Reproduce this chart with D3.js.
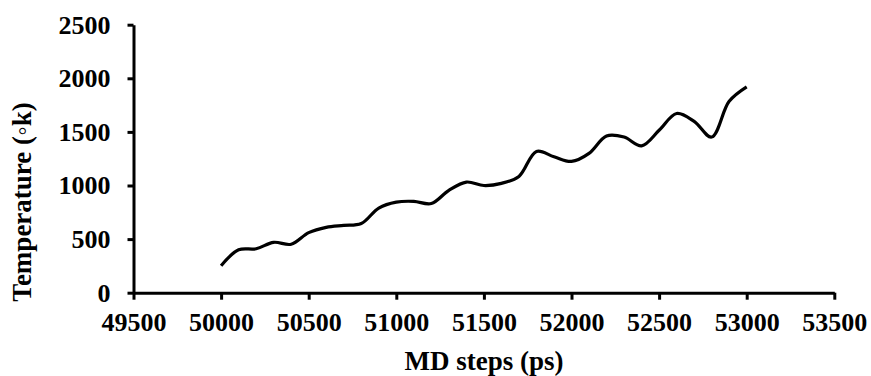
<!DOCTYPE html>
<html>
<head>
<meta charset="utf-8">
<script src="https://cdn.jsdelivr.net/npm/d3@7"></script>
<style>
  html, body { margin: 0; padding: 0; background: #fff; }
  svg { display: block; }
  text { font-family: "Liberation Serif", "Times New Roman", serif; font-weight: bold; fill: #000; }
</style>
</head>
<body>
<svg id="chart" width="871" height="376"></svg>
<script>
// MD steps (ps)
const steps = [50000, 50100, 50200, 50300, 50400, 50500, 50600, 50700, 50800, 50900,
               51000, 51100, 51200, 51300, 51400, 51500, 51600, 51700, 51800, 51900,
               52000, 52100, 52200, 52300, 52400, 52500, 52600, 52700, 52800, 52900, 53000];
// Temperature (K)
const temperature = [252, 400, 410, 470, 452, 560, 610, 628, 645, 790,
                     845, 852, 832, 955, 1032, 1000, 1020, 1085, 1318, 1268,
                     1225, 1300, 1462, 1452, 1370, 1515, 1672, 1598, 1452, 1785, 1920];
const xTicks = [49500, 50000, 50500, 51000, 51500, 52000, 52500, 53000, 53500];
const yTicks = [0, 500, 1000, 1500, 2000, 2500];
const xTitle = "MD steps (ps)";
const yTitle = "Temperature (\u25E6k)";

const svg = d3.select("#chart");
const mLeft = 133.5, mRight = 834.3, mTop = 24.7, mBottom = 292.7;

const x = d3.scaleLinear().domain([49500, 53500]).range([mLeft, mRight]);
const y = d3.scaleLinear().domain([0, 2500]).range([mBottom, mTop]);

const xAxis = svg.append("g")
  .attr("transform", `translate(0,${mBottom})`)
  .call(d3.axisBottom(x).tickValues(xTicks).tickSizeInner(7).tickSizeOuter(0).tickPadding(13).tickFormat(d3.format("d")));
const yAxis = svg.append("g")
  .attr("transform", `translate(${mLeft},0)`)
  .call(d3.axisLeft(y).tickValues(yTicks).tickSizeInner(6).tickSizeOuter(0).tickPadding(17).tickFormat(d3.format("d")));

[xAxis, yAxis].forEach(g => {
  g.select(".domain").attr("stroke", "#000").attr("stroke-width", 3);
  g.selectAll(".tick line").attr("stroke", "#000").attr("stroke-width", 3);
  g.selectAll(".tick text")
    .style("font-family", '"Liberation Serif", "Times New Roman", serif')
    .style("font-weight", "bold")
    .style("font-size", "26px")
    .attr("fill", "#000");
});

svg.append("path")
  .datum(steps.map((s, i) => [s, temperature[i]]))
  .attr("fill", "none")
  .attr("stroke", "#000")
  .attr("stroke-width", 3.2)
  .attr("stroke-linejoin", "round")
  .attr("d", d3.line().x(d => x(d[0])).y(d => y(d[1])).curve(d3.curveCatmullRom.alpha(0.5)));

svg.append("text")
  .attr("x", 484).attr("y", 370)
  .attr("text-anchor", "middle")
  .style("font-size", "27px")
  .text(xTitle);

svg.append("text")
  .attr("transform", `translate(31,202) rotate(-90)`)
  .attr("text-anchor", "middle")
  .style("font-size", "27px")
  .text(yTitle);
</script>
</body>
</html>
